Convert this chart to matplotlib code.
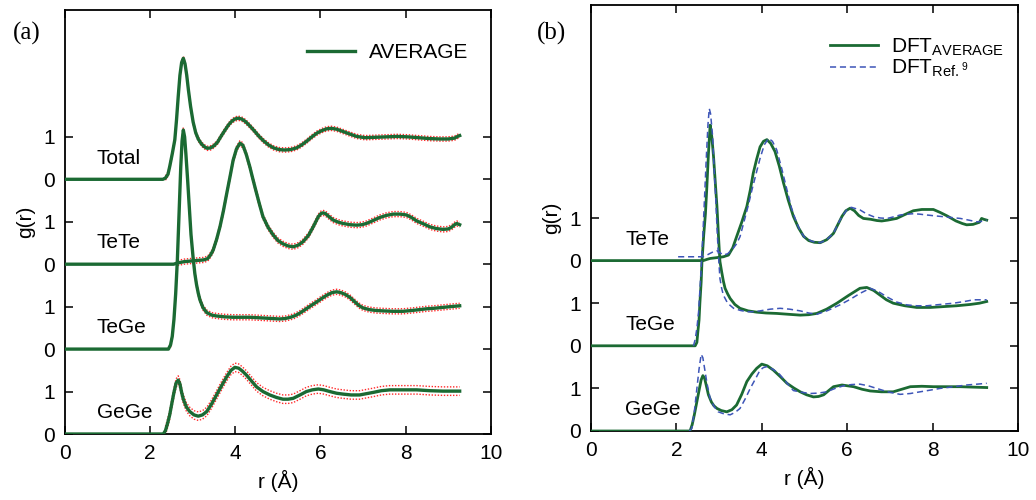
import matplotlib
matplotlib.use("Agg")
import matplotlib.pyplot as plt
import numpy as np

plt.rcParams['font.family'] = ['Liberation Sans', 'DejaVu Sans']
plt.rcParams['mathtext.fontset'] = 'custom'
plt.rcParams['mathtext.rm'] = 'Liberation Sans'
plt.rcParams['mathtext.it'] = 'Liberation Sans:italic'

# ---- panel (a): average g(r), (r, g) pairs ----
total = [(0, 0), (2.30, 0), (2.36, 0.03), (2.42, 0.12), (2.46, 0.30), (2.52, 0.60), (2.58, 0.93), (2.62, 1.40),
         (2.66, 1.95), (2.70, 2.45), (2.74, 2.75), (2.78, 2.85), (2.82, 2.72), (2.86, 2.45), (2.90, 2.10),
         (2.95, 1.72), (3.01, 1.35), (3.07, 1.10), (3.13, 0.95), (3.20, 0.84), (3.27, 0.77), (3.34, 0.73),
         (3.42, 0.74), (3.50, 0.79), (3.58, 0.87), (3.67, 1.02), (3.76, 1.16), (3.84, 1.28), (3.91, 1.36),
         (3.99, 1.42), (4.07, 1.44), (4.15, 1.42), (4.24, 1.36), (4.34, 1.26), (4.44, 1.15), (4.55, 1.02),
         (4.66, 0.91), (4.78, 0.81), (4.90, 0.74), (5.03, 0.70), (5.16, 0.69), (5.30, 0.70), (5.44, 0.74),
         (5.56, 0.81), (5.68, 0.90), (5.80, 1.00), (5.92, 1.09), (6.04, 1.15), (6.15, 1.19), (6.26, 1.20),
         (6.38, 1.18), (6.52, 1.13), (6.68, 1.07), (6.85, 1.01), (7.05, 0.98), (7.30, 0.99), (7.55, 1.00),
         (7.80, 1.01), (8.05, 1.00), (8.30, 0.98), (8.55, 0.96), (8.80, 0.95), (9.00, 0.95), (9.15, 0.97),
         (9.22, 1.01), (9.27, 1.03)]

tete = [(0, 0), (2.55, 0), (2.65, 0.03), (2.80, 0.06), (3.01, 0.08), (3.25, 0.10), (3.35, 0.13), (3.42, 0.22),
        (3.48, 0.33), (3.56, 0.58), (3.64, 0.88), (3.72, 1.25), (3.80, 1.67), (3.88, 2.08), (3.95, 2.45),
        (4.03, 2.72), (4.11, 2.85), (4.18, 2.80), (4.26, 2.58), (4.34, 2.30), (4.42, 1.98), (4.50, 1.67),
        (4.58, 1.37), (4.65, 1.12), (4.77, 0.87), (4.89, 0.69), (5.00, 0.56), (5.12, 0.48), (5.24, 0.43),
        (5.36, 0.41), (5.48, 0.45), (5.59, 0.53), (5.72, 0.68), (5.83, 0.88), (5.95, 1.12), (6.01, 1.19),
        (6.06, 1.21), (6.12, 1.19), (6.20, 1.12), (6.30, 1.04), (6.42, 0.99), (6.53, 0.96), (6.70, 0.93),
        (6.85, 0.92), (6.97, 0.93), (7.08, 0.96), (7.24, 1.03), (7.39, 1.10), (7.55, 1.15), (7.71, 1.18),
        (7.87, 1.18), (8.02, 1.16), (8.14, 1.10), (8.26, 1.02), (8.42, 0.95), (8.57, 0.88), (8.72, 0.84),
        (8.88, 0.82), (9.00, 0.83), (9.08, 0.87), (9.15, 0.93), (9.20, 0.96), (9.27, 0.93)]

tege = [(0, 0), (2.43, 0), (2.48, 0.1), (2.52, 0.3), (2.56, 0.7), (2.60, 1.3), (2.64, 2.1), (2.68, 3.2),
        (2.72, 4.3), (2.75, 4.9), (2.78, 5.16), (2.81, 5.0), (2.84, 4.6), (2.88, 4.0), (2.92, 3.35),
        (2.96, 2.7), (3.01, 2.15), (3.05, 1.78), (3.09, 1.52), (3.13, 1.32), (3.17, 1.16), (3.24, 0.98),
        (3.33, 0.86), (3.45, 0.80), (3.56, 0.78), (3.75, 0.76), (3.95, 0.75), (4.15, 0.75), (4.34, 0.75),
        (4.52, 0.74), (4.70, 0.73), (4.87, 0.72), (5.04, 0.71), (5.17, 0.72), (5.30, 0.75), (5.41, 0.79),
        (5.52, 0.85), (5.64, 0.93), (5.77, 1.02), (5.91, 1.11), (6.04, 1.20), (6.15, 1.27), (6.27, 1.33),
        (6.38, 1.35), (6.48, 1.33), (6.58, 1.29), (6.69, 1.22), (6.80, 1.12), (6.90, 1.03), (7.00, 0.97),
        (7.15, 0.93), (7.30, 0.91), (7.47, 0.90), (7.70, 0.89), (7.94, 0.89), (8.15, 0.91), (8.33, 0.93),
        (8.50, 0.95), (8.65, 0.96), (8.85, 0.98), (9.05, 1.00), (9.27, 1.02)]

gege = [(0, 0), (2.31, 0), (2.36, 0.08), (2.41, 0.25), (2.46, 0.45), (2.51, 0.72), (2.56, 0.98), (2.61, 1.20),
        (2.66, 1.27), (2.70, 1.18), (2.74, 0.98), (2.78, 0.82), (2.85, 0.64), (2.93, 0.53), (3.03, 0.45),
        (3.13, 0.42), (3.23, 0.45), (3.33, 0.53), (3.44, 0.70), (3.56, 0.92), (3.68, 1.14), (3.80, 1.35),
        (3.90, 1.50), (3.99, 1.57), (4.08, 1.55), (4.17, 1.48), (4.26, 1.39), (4.38, 1.25), (4.50, 1.11),
        (4.65, 1.00), (4.81, 0.92), (4.97, 0.86), (5.12, 0.82), (5.24, 0.82), (5.36, 0.84), (5.52, 0.92),
        (5.67, 1.00), (5.81, 1.04), (5.95, 1.06), (6.08, 1.04), (6.22, 1.00), (6.38, 0.96), (6.53, 0.94),
        (6.72, 0.92), (6.92, 0.92), (7.08, 0.95), (7.24, 0.98), (7.43, 1.02), (7.63, 1.04), (7.95, 1.04),
        (8.26, 1.04), (8.57, 1.02), (8.88, 1.01), (9.27, 1.01)]

# scatter of the individual runs around the average (half width, in g units)
spread_a = {'Total': 0.05, 'TeTe': 0.06, 'TeGe': 0.06, 'GeGe': 0.10}

# ---- panel (b): DFT average vs DFT Ref. 9 ----
b_tete = [(0, 0), (2.63, 0), (2.72, 0.03), (2.79, 0.05), (2.95, 0.07), (3.10, 0.09), (3.22, 0.13), (3.32, 0.30),
          (3.41, 0.56), (3.53, 0.90), (3.65, 1.27), (3.73, 1.65), (3.80, 2.05), (3.88, 2.38), (3.96, 2.67),
          (4.04, 2.80), (4.12, 2.84), (4.21, 2.75), (4.31, 2.56), (4.41, 2.22), (4.51, 1.82), (4.62, 1.42),
          (4.74, 1.04), (4.86, 0.77), (4.98, 0.57), (5.10, 0.47), (5.23, 0.43), (5.37, 0.42), (5.52, 0.49),
          (5.62, 0.58), (5.68, 0.64), (5.78, 0.84), (5.88, 1.04), (5.97, 1.17), (6.07, 1.23), (6.17, 1.17),
          (6.27, 1.06), (6.38, 0.99), (6.55, 0.97), (6.70, 0.94), (6.81, 0.93), (6.95, 0.95), (7.16, 0.99),
          (7.35, 1.08), (7.55, 1.17), (7.75, 1.20), (8.02, 1.20), (8.18, 1.13), (8.34, 1.05), (8.55, 0.93),
          (8.70, 0.87), (8.80, 0.84), (8.95, 0.85), (9.10, 0.90), (9.15, 0.99), (9.20, 0.97), (9.27, 0.95)]
ref_tete = [(2.04, 0.09), (2.62, 0.09), (2.70, 0.12), (2.79, 0.17), (2.87, 0.21), (2.95, 0.23), (3.03, 0.18),
            (3.10, 0.13), (3.20, 0.16), (3.30, 0.25), (3.40, 0.38), (3.49, 0.56), (3.58, 0.90), (3.68, 1.28),
            (3.77, 1.66), (3.87, 2.05), (3.96, 2.40), (4.06, 2.72), (4.16, 2.87), (4.25, 2.80), (4.35, 2.60),
            (4.47, 2.15), (4.59, 1.66), (4.70, 1.22), (4.82, 0.88), (4.91, 0.68), (5.00, 0.55), (5.18, 0.45),
            (5.37, 0.42), (5.52, 0.49), (5.68, 0.64), (5.78, 0.85), (5.88, 1.04), (6.00, 1.20), (6.10, 1.25),
            (6.30, 1.19), (6.45, 1.10), (6.62, 1.03), (6.78, 1.00), (6.94, 0.99), (7.10, 1.03), (7.24, 1.07),
            (7.40, 1.09), (7.55, 1.10), (7.70, 1.09), (7.87, 1.07), (8.06, 1.05), (8.26, 1.03), (8.45, 1.01),
            (8.65, 0.99), (8.85, 0.95), (9.04, 0.91), (9.15, 0.92), (9.27, 0.95)]

b_tege = [(0, 0), (2.44, 0), (2.48, 0.08), (2.50, 0.3), (2.53, 0.6), (2.55, 1.0), (2.58, 1.5), (2.60, 2.0),
          (2.64, 2.6), (2.68, 3.1), (2.71, 3.66), (2.75, 4.5), (2.79, 5.18), (2.83, 4.9), (2.87, 4.44),
          (2.91, 3.85), (2.95, 3.27), (2.99, 2.5), (3.02, 1.98), (3.06, 1.74), (3.10, 1.52), (3.14, 1.35),
          (3.20, 1.22), (3.26, 1.11), (3.37, 0.97), (3.49, 0.88), (3.68, 0.82), (3.88, 0.79), (4.10, 0.77),
          (4.35, 0.76), (4.62, 0.74), (4.90, 0.72), (5.10, 0.73), (5.29, 0.76), (5.52, 0.86), (5.76, 1.00),
          (6.03, 1.18), (6.30, 1.35), (6.46, 1.37), (6.62, 1.30), (6.77, 1.19), (6.92, 1.08), (7.08, 1.00),
          (7.35, 0.94), (7.63, 0.90), (7.95, 0.90), (8.26, 0.92), (8.57, 0.94), (8.88, 0.97), (9.10, 1.00),
          (9.27, 1.04)]
ref_tege = [(2.40, 0), (2.44, 0.15), (2.48, 0.41), (2.52, 0.8), (2.55, 1.3), (2.59, 2.0), (2.62, 2.6),
            (2.66, 3.5), (2.70, 4.4), (2.74, 5.2), (2.77, 5.57), (2.80, 5.45), (2.85, 4.9), (2.88, 4.2),
            (2.92, 3.5), (2.95, 2.8), (2.98, 2.2), (3.02, 1.58), (3.06, 1.35), (3.10, 1.19), (3.20, 1.00),
            (3.34, 0.88), (3.50, 0.83), (3.65, 0.80), (3.80, 0.80), (3.96, 0.82), (4.20, 0.86), (4.43, 0.88),
            (4.65, 0.86), (4.90, 0.82), (5.10, 0.77), (5.29, 0.74), (5.55, 0.83), (5.83, 0.96), (6.07, 1.09),
            (6.30, 1.23), (6.54, 1.35), (6.72, 1.28), (6.93, 1.15), (7.15, 1.03), (7.40, 0.96), (7.63, 0.94),
            (7.87, 0.94), (8.18, 0.97), (8.49, 1.00), (8.75, 1.04), (8.96, 1.08), (9.27, 1.08)]

b_gege = [(0, 0), (2.32, 0), (2.37, 0.15), (2.42, 0.38), (2.48, 0.69), (2.54, 1.00), (2.58, 1.20), (2.62, 1.30),
          (2.66, 1.24), (2.70, 1.07), (2.75, 0.85), (2.82, 0.68), (2.88, 0.59), (2.95, 0.53), (3.05, 0.48),
          (3.18, 0.45), (3.30, 0.50), (3.41, 0.61), (3.53, 0.86), (3.65, 1.16), (3.77, 1.34), (3.88, 1.47),
          (4.00, 1.57), (4.13, 1.53), (4.27, 1.43), (4.43, 1.28), (4.59, 1.12), (4.75, 1.01), (4.90, 0.92),
          (5.05, 0.85), (5.21, 0.80), (5.33, 0.81), (5.45, 0.85), (5.57, 0.95), (5.68, 1.04), (5.88, 1.08),
          (6.15, 1.04), (6.35, 0.98), (6.54, 0.94), (6.80, 0.92), (7.08, 0.92), (7.28, 0.98), (7.48, 1.04),
          (7.75, 1.05), (8.02, 1.04), (8.35, 1.04), (8.65, 1.04), (8.95, 1.03), (9.27, 1.02)]
ref_gege = [(2.30, 0), (2.36, 0.06), (2.42, 0.45), (2.48, 1.0), (2.53, 1.45), (2.58, 1.80), (2.62, 1.72),
            (2.66, 1.47), (2.72, 1.10), (2.79, 0.77), (2.88, 0.58), (2.98, 0.45), (3.12, 0.40), (3.26, 0.38),
            (3.38, 0.44), (3.49, 0.53), (3.61, 0.75), (3.73, 1.00), (3.85, 1.22), (3.96, 1.43), (4.04, 1.49),
            (4.12, 1.51), (4.26, 1.45), (4.40, 1.35), (4.57, 1.15), (4.74, 0.95), (4.93, 0.91), (5.13, 0.88),
            (5.33, 0.89), (5.52, 0.92), (5.72, 1.00), (5.91, 1.06), (6.10, 1.09), (6.30, 1.10), (6.50, 1.06),
            (6.69, 1.00), (6.95, 0.92), (7.24, 0.86), (7.48, 0.88), (7.71, 0.92), (7.95, 0.96), (8.18, 1.00),
            (8.50, 1.04), (8.80, 1.08), (9.05, 1.10), (9.27, 1.12)]

GREEN = '#1b6a33'
RED = '#ff2a2a'
BLUE = '#3d55b8'
FS = 15


def xy(pairs, off):
    r, g = zip(*pairs)
    return np.array(r), np.array(g) + off


fig = plt.figure(figsize=(10.36, 5.0), dpi=100)
ax1 = fig.add_axes([0.0627, 0.132, 0.411, 0.849])
ax2 = fig.add_axes([0.5705, 0.138, 0.412, 0.852])


def style(ax, nrows):
    ax.set_xlim(0, 10)
    ax.set_ylim(0, 10)
    ax.set_xticks([0, 2, 4, 6, 8, 10])
    ax.set_yticks(range(2 * nrows))
    ax.set_yticklabels(['0', '1'] * nrows)
    ax.tick_params(direction='in', top=True, right=True, length=6, width=1.1,
                   labelsize=FS, pad=7)
    for sp in ax.spines.values():
        sp.set_linewidth(1.3)
    ax.set_xlabel('r (Å)', fontsize=FS, labelpad=5)
    ax.set_ylabel('g(r)', fontsize=FS, labelpad=6)


# panel (a)
curves_a = [('Total', 6, total), ('TeTe', 4, tete), ('TeGe', 2, tege), ('GeGe', 0, gege)]
for name, off, pairs in curves_a:
    r, g = xy(pairs, off)
    s = spread_a[name]
    on = np.array([p[1] > 0 for p in pairs])
    for sign in (1, -1):
        ax1.plot(r[on], g[on] + sign * s, color=RED, lw=1.0, ls=(0, (1, 1.2)), zorder=2)
    ax1.plot(r, g, color=GREEN, lw=2.4, zorder=3,
             label='AVERAGE' if name == 'Total' else None)
    ax1.text(0.75, off + 0.5, name, fontsize=FS, va='center', ha='left')
style(ax1, 4)
ax1.legend(loc='center right', bbox_to_anchor=(0.948, 0.899), frameon=False,
           fontsize=FS, handlelength=2.3, handletextpad=0.7, borderpad=0, borderaxespad=0)
fig.text(0.012, 0.934, '(a)', fontsize=18, family='Liberation Serif', va='center')

# panel (b)
curves_b = [('TeTe', 4, b_tete, ref_tete), ('TeGe', 2, b_tege, ref_tege), ('GeGe', 0, b_gege, ref_gege)]
for i, (name, off, avg, ref) in enumerate(curves_b):
    r, g = xy(avg, off)
    ax2.plot(r, g, color=GREEN, lw=2.0, zorder=3,
             label=r'DFT$_{\mathrm{AVERAGE}}$' if i == 0 else None)
    r, g = xy(ref, off)
    ax2.plot(r, g, color=BLUE, lw=1.1, ls=(0, (4, 2.5)), zorder=4,
             label=r'DFT$_{\mathrm{Ref.}^{9}}$' if i == 0 else None)
    ax2.text(0.8, off + 0.5, name, fontsize=FS, va='center', ha='left')
style(ax2, 3)
ax2.legend(loc='center right', bbox_to_anchor=(0.966, 0.876), frameon=False,
           fontsize=FS, handlelength=2.3, handletextpad=0.6, borderpad=0, borderaxespad=0,
           labelspacing=0.0)
fig.text(0.518, 0.934, '(b)', fontsize=18, family='Liberation Serif', va='center')

fig.savefig('out.png', dpi=100)
